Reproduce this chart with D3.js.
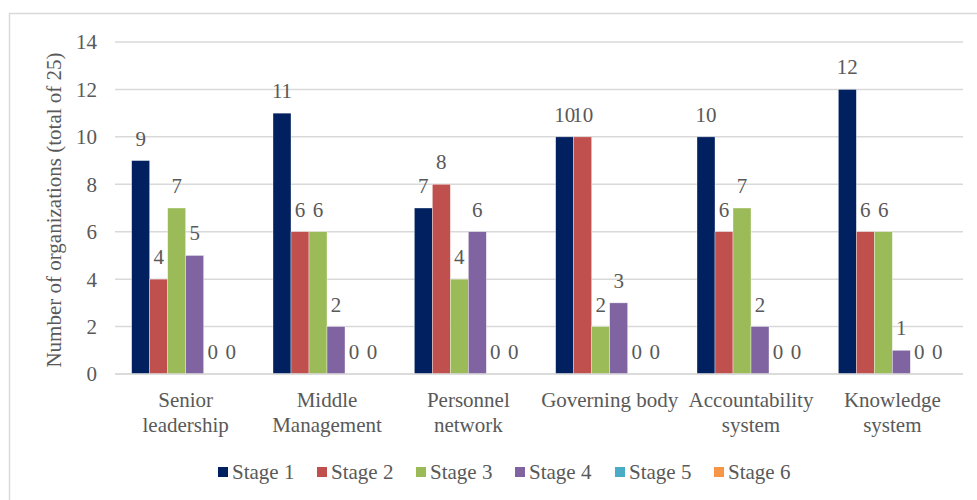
<!DOCTYPE html>
<html><head><meta charset="utf-8">
<script src="https://cdn.jsdelivr.net/npm/d3@7"></script>
<style>body{margin:0;background:#fff}svg{display:block}</style>
</head><body><svg id="c" width="977" height="500"></svg>
<script>
const categories = [["Senior","leadership"],["Middle","Management"],["Personnel","network"],["Governing body"],["Accountability","system"],["Knowledge","system"]];
const seriesNames = ["Stage 1","Stage 2","Stage 3","Stage 4","Stage 5","Stage 6"];
const stage1 = [9,11,7,10,10,12];
const stage2 = [4,6,8,10,6,6];
const stage3 = [7,6,4,2,7,6];
const stage4 = [5,2,6,3,2,1];
const stage5 = [0,0,0,0,0,0];
const stage6 = [0,0,0,0,0,0];
const yTicks = [0,2,4,6,8,10,12,14];
const colors = ["#002060","#C0504D","#9BBB59","#8064A2","#4BACC6","#F79646"];
const values = [stage1,stage2,stage3,stage4,stage5,stage6];
const FONT = "'Liberation Serif', 'Times New Roman', Tinos, 'Nimbus Roman', 'DejaVu Serif', serif";
const FS = 21;

const svg = d3.select("#c");
svg.append("rect").attr("x",9.5).attr("y",13.5).attr("width",970).attr("height",495).attr("fill","none").attr("stroke","#d9d9d9").attr("stroke-width",1.5);

const pL=115,pR=963,pT=42,pB=374;
const x0 = d3.scaleBand().domain(d3.range(categories.length)).range([pL,pR]).paddingInner(0).paddingOuter(0);
const x1 = d3.scaleBand().domain(d3.range(seriesNames.length)).range([0,108]);
const y = d3.scaleLinear().domain([0,14]).range([pB,pT]);

const grid = svg.append("g");
yTicks.forEach(t=>{
  grid.append("line").attr("x1",pL).attr("x2",pR).attr("y1",y(t)).attr("y2",y(t)).attr("stroke","#d9d9d9").attr("stroke-width",1.5);
});
const yAxis = d3.axisLeft(y).tickValues(yTicks).tickSize(0).tickPadding(0);
const ya = svg.append("g").attr("transform",`translate(${pL-18},0)`).call(yAxis);
ya.attr("font-family",null).attr("font-size",null);
ya.select(".domain").remove();
ya.selectAll("text").attr("font-size",FS).attr("fill","#595959").attr("font-family",FONT).attr("dy","0.33em");

const txt = (sel)=>sel.append("text").attr("font-family",FONT).attr("fill","#595959").attr("font-size",FS);

txt(svg).attr("transform",`translate(61,210) rotate(-90)`).attr("text-anchor","middle").text("Number of organizations (total of 25)");

categories.forEach((cat,i)=>{
  const gx = x0(i)+x0.bandwidth()/2-54;
  values.forEach((vals,s)=>{
    const v=vals[i];
    const bx = gx + x1(s);
    if(v>0){
      svg.append("rect").attr("x",bx).attr("y",y(v)).attr("width",x1.bandwidth()).attr("height",y(0)-y(v)).attr("fill",colors[s]).attr("stroke","#ffffff").attr("stroke-width",0.6).attr("stroke-opacity",0.6);
    }
    txt(svg).attr("x",bx+x1.bandwidth()/2).attr("y",y(v)-15).attr("text-anchor","middle").text(v);
  });
  const cx = x0(i)+x0.bandwidth()/2;
  const t = txt(svg).attr("text-anchor","middle");
  cat.forEach((line,k)=>{
    t.append("tspan").attr("x",cx).attr("y",407+k*25).text(line);
  });
});

svg.append("line").attr("x1",pL).attr("x2",pR).attr("y1",y(0)).attr("y2",y(0)).attr("stroke","#d9d9d9").attr("stroke-width",1.5);

const legX = [218,317,416,515,615,714];
seriesNames.forEach((n,s)=>{
  svg.append("rect").attr("x",legX[s]).attr("y",467).attr("width",10).attr("height",10).attr("fill",colors[s]);
  txt(svg).attr("x",legX[s]+14).attr("y",479).text(n);
});
</script></body></html>
